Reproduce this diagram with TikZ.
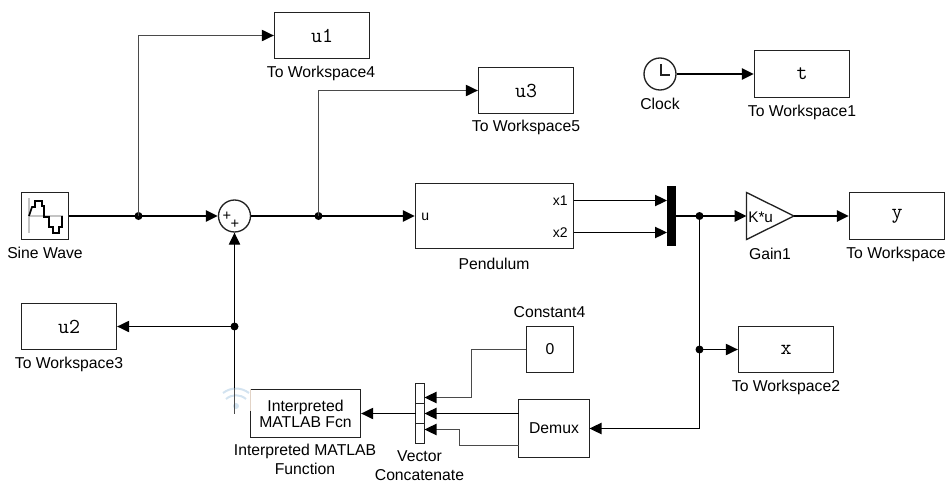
\documentclass[tikz,border=0pt]{standalone}
\usepackage{fontspec}
\setmainfont{Liberation Sans}
\usetikzlibrary{arrows.meta, positioning}
\definecolor{slEdge}{HTML}{222222}
\definecolor{slWire}{HTML}{4A4A4A}
\definecolor{slGrey}{HTML}{C4C4C4}
\definecolor{slWifi}{HTML}{D3E3F0}
\definecolor{slTan}{HTML}{E2D3C6}
\tikzset{
  thinwire/.style  = {-{Triangle[length=9pt,width=8.5pt]}, line width=0.85pt, black},
  thickwire/.style = {-{Triangle[length=9pt,width=8.5pt]}, line width=1.5pt, black},
  greywire/.style  = {-{Triangle[length=9pt,width=8.5pt,color=black]}, line width=0.85pt, slWire},
  plainwire/.style = {line width=0.85pt, black},
  block/.style     = {draw=slEdge, line width=1pt, fill=white, inner sep=0pt,
                      font=\fontsize{11.8}{12}\selectfont, align=center},
  wsblock/.style   = {block, minimum width=71.25pt, minimum height=34.5pt,
                      font=\fontsize{16}{16}\ttfamily},
  lbl/.style       = {font=\fontsize{11.8}{14.25}\selectfont, align=center, inner sep=0pt},
  portlbl/.style   = {font=\fontsize{10.5}{12}\selectfont, inner sep=0pt},
  junction/.style  = {circle, fill=black, inner sep=0pt, minimum size=6pt},
}
\begin{document}
\begin{tikzpicture}[x=0.75pt, y=-0.75pt]
\useasboundingbox (0,0) rectangle (947,482);

% ---- watermark behind the lower left corner ---------------------------------
\fill[slWifi] (236,406) circle (3);
\draw[slWifi, line width=1.5pt] (226,399) .. controls (232,394) and (240,394) .. (246,399);
\draw[slWifi, line width=1.5pt] (223,393) .. controls (231,387) and (241,387) .. (249,393);

% ---- sources and sinks -------------------------------------------------------
\node[block, minimum width=35.25pt, minimum height=35.25pt] (sineblk) at (45,216) {};
\node[lbl] (sinelbl) at (45,253) {Sine Wave};
\node[wsblock] (wsfour) at (322,35.5) {u1};
\node[lbl] (wsfourlbl) at (321,73) {To Workspace4};
\node[wsblock] (wsfive) at (526,90.5) {u3};
\node[lbl] (wsfivelbl) at (526,127) {To Workspace5};
\node[wsblock, minimum height=35.25pt] (wsone) at (802,74) {t};
\node[lbl] (wsonelbl) at (802,112) {To Workspace1};
\node[wsblock, minimum height=35.25pt] (wszero) at (897,216) {y};
\node[lbl] (wszerolbl) at (896,254) {To Workspace};
\node[wsblock] (wstwo) at (786,349.5) {x};
\node[lbl] (wstwolbl) at (786,387) {To Workspace2};
\node[wsblock] (wsthree) at (69,326.5) {u2};
\node[lbl] (wsthreelbl) at (69,364) {To Workspace3};

% ---- the sine icon
\draw[slGrey, line width=1.2pt] (29,198) -- (29,233);
\draw[slGrey, line width=0.8pt] (29,216) -- (63,216);
\draw[black, line width=1.2pt]
  (29,216) -- (32,207) -- (35,207) -- (35,201) -- (42,201) -- (42,206) -- (44,206)
  -- (44,217) -- (49,217) -- (49,227) -- (53,227) -- (53,233) -- (59,233) -- (59,227)
  -- (62,227) -- (62,216);

% ---- clock
\node[circle, draw=slEdge, line width=1pt, fill=white, minimum size=24pt, inner sep=0pt]
  (clockblk) at (660,74) {};
\draw[slEdge, line width=0.85pt] (661,64) -- (661,75) -- (670,75);
\node[lbl] (clocklbl) at (660,104) {Clock};

% ---- signal path -------------------------------------------------------------
\node[circle, draw=slEdge, line width=1pt, fill=white, minimum size=24pt, inner sep=0pt]
  (sumblk) at (234.5,216) {};
\node[inner sep=0pt, font=\fontsize{11}{11}\selectfont] (sumplusa) at (227,216.5) {+};
\node[inner sep=0pt, font=\fontsize{11}{11}\selectfont] (sumplusb) at (235,224) {+};

\node[block, minimum width=118.5pt, minimum height=48.75pt] (pendblk) at (494.5,216) {};
\node[portlbl, anchor=west] (pendu) at (421,216.5) {u};
\node[portlbl, anchor=east] (pendxa) at (568,201) {x1};
\node[portlbl, anchor=east] (pendxb) at (568,232.5) {x2};
\node[lbl] (pendlbl) at (494,264) {Pendulum};

\node[fill=black, inner sep=0pt, minimum width=6.75pt, minimum height=45pt] (muxblk) at (671.5,216) {};

\draw[block] (746.5,192.5) -- (794,216) -- (746.5,239.5) -- cycle;
\coordinate (gainin) at (746.5,216);
\coordinate (gainout) at (794,216);
\node[portlbl, anchor=west, font=\fontsize{11.5}{12}\selectfont] (gaintxt) at (748,217) {K*u};
\node[lbl] (gainlbl) at (770,254) {Gain1};

% ---- feedback path -----------------------------------------------------------
\node[block, minimum width=35.25pt, minimum height=34.5pt] (constblk) at (550,349.5) {0};
\node[lbl] (constlbl) at (549.5,312) {Constant4};
\node[block, minimum width=53.25pt, minimum height=43.5pt] (demuxblk) at (554,428.5) {Demux};
\node[block, minimum width=82.5pt, minimum height=36pt] (fcnblk) at (305.5,413.5) {Interpreted\\MATLAB Fcn};
\node[lbl] (fcnlbl) at (305,459.5) {Interpreted MATLAB\\Function};
\draw[slEdge, fill=white, line width=0.85pt] (415.5,383.5) rectangle (424.5,443.5);
\draw[slEdge, line width=0.85pt] (415.5,403.5) -- (424.5,403.5) (415.5,423.5) -- (424.5,423.5);
\node[lbl] (veclbl) at (419.5,465.5) {Vector\\Concatenate};
\draw[slTan, line width=1pt] (250.5,388.5) -- (250.5,411);

% ---- helper points on the block edges
\coordinate (pendouta) at (573.5,200.5);
\coordinate (pendoutb) at (573.5,232.5);
\coordinate (muxina) at (667,200.5);
\coordinate (muxinb) at (667,232.5);
\coordinate (vecina) at (424.5,397.5);
\coordinate (vecinb) at (424.5,413.5);
\coordinate (vecinc) at (424.5,429.5);
\coordinate (vecout) at (415.5,413.5);
\coordinate (demuxoutb) at (518.5,413.5);
\coordinate (demuxoutc) at (518.5,445.5);
\coordinate (demuxin) at (589.5,428.5);
\coordinate (bendconst) at (471.5,349.5);
\coordinate (benddemux) at (459.5,445.5);
\coordinate (fcnstub) at (234.5,413.5);
\coordinate (fadestart) at (234.5,388);

% ---- junctions
\node[junction] (jsine) at (138.5,216) {};
\node[junction] (jsum) at (318.5,216) {};
\node[junction] (jmux) at (699.5,216) {};
\node[junction] (jdemux) at (699.5,349.5) {};
\node[junction] (jfcn) at (234.5,326.5) {};

% ---- wires
\draw[thickwire] (sineblk.east) -- (sumblk.west);
\draw[thickwire] (sumblk.east) -- (pendblk.west);
\draw[greywire] (jsine.center) |- (wsfour.west);
\draw[greywire] (jsum.center) |- (wsfive.west);
\draw[thickwire] (clockblk.east) -- (wsone.west);
\draw[thinwire] (pendouta) -- (muxina);
\draw[thinwire] (pendoutb) -- (muxinb);
\draw[thickwire] (muxblk.east) -- (gainin);
\draw[thickwire] (gainout) -- (wszero.west);
\draw[thinwire] (jdemux.center) -- (wstwo.west);
\draw[thinwire] (jmux.center) |- (demuxin);
\draw[greywire] (constblk.west) -- (bendconst) |- (vecina);
\draw[thinwire] (demuxoutb) -- (vecinb);
\draw[greywire] (demuxoutc) -- (benddemux) |- (vecinc);
\draw[thinwire] (vecout) -- (fcnblk.east);
\draw[thinwire] (jfcn.center) -- (wsthree.east);
\draw[thinwire] (fadestart) -- (sumblk.south);
\draw[plainwire, slWire] (fadestart) -- (fcnstub);

\end{tikzpicture}
\end{document}
